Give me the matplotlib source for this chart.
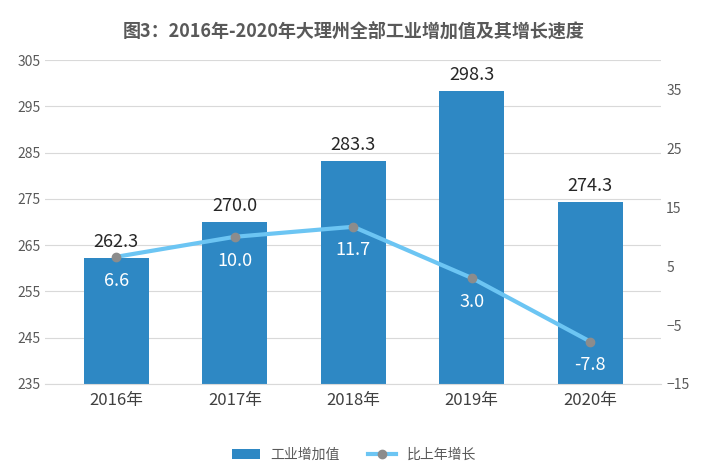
import matplotlib.pyplot as plt
plt.rcParams['font.family'] = ['Noto Sans CJK SC', 'DejaVu Sans']

years = ['2016年', '2017年', '2018年', '2019年', '2020年']
value = [262.3, 270.0, 283.3, 298.3, 274.3]
growth = [6.6, 10.0, 11.7, 3.0, -7.8]

fig = plt.figure(figsize=(7.08, 4.74), dpi=100)
ax = fig.add_axes([0.064, 0.19, 0.87, 0.683])
x = range(len(years))
ax.bar(x, value, width=0.55, color='#2e88c4', zorder=2, label='工业增加值')
ax.set_ylim(235, 305)
ax.set_yticks(range(235, 306, 10))
ax.set_xlim(-0.6, 4.6)
ax.set_xticks(list(x))
ax.set_xticklabels(years, fontsize=12, color='#404040')
ax.grid(axis='y', color='#d9d9d9', lw=0.8, zorder=0)
for s in ['top', 'right', 'left']:
    ax.spines[s].set_visible(False)
ax.spines['bottom'].set_color('#d9d9d9')
ax.tick_params(axis='both', length=0, labelsize=10, colors='#595959')
ax.tick_params(axis='x', labelsize=12, colors='#404040', pad=6)
for i, v in enumerate(value):
    ax.text(i, v + 1.5, f'{v:.1f}', ha='center', va='bottom', fontsize=13, color='#262626')

ax2 = ax.twinx()
ax2.plot(x, growth, color='#6cc5f3', lw=3, marker='o', markersize=6,
         markerfacecolor='#8c8c8c', markeredgecolor='#8c8c8c', zorder=3, label='比上年增长')
ax2.set_ylim(-15, 40)
ax2.set_yticks(range(-15, 36, 10))
for s in ['top', 'right', 'left', 'bottom']:
    ax2.spines[s].set_visible(False)
ax2.tick_params(axis='y', length=0, labelsize=10, colors='#595959')
for i, g in enumerate(growth):
    ax2.text(i, g - 2.5, f'{g:.1f}', ha='center', va='top', fontsize=13, color='white')

fig.suptitle('图3：2016年-2020年大理州全部工业增加值及其增长速度', y=0.955,
             fontsize=13, fontweight='bold', color='#595959')
h1, l1 = ax.get_legend_handles_labels()
h2, l2 = ax2.get_legend_handles_labels()
fig.legend(h1 + h2, l1 + l2, loc='lower center', ncol=2, frameon=False,
           bbox_to_anchor=(0.5, 0.0), fontsize=10, labelcolor='#595959')
fig.savefig('out.png', dpi=100)
